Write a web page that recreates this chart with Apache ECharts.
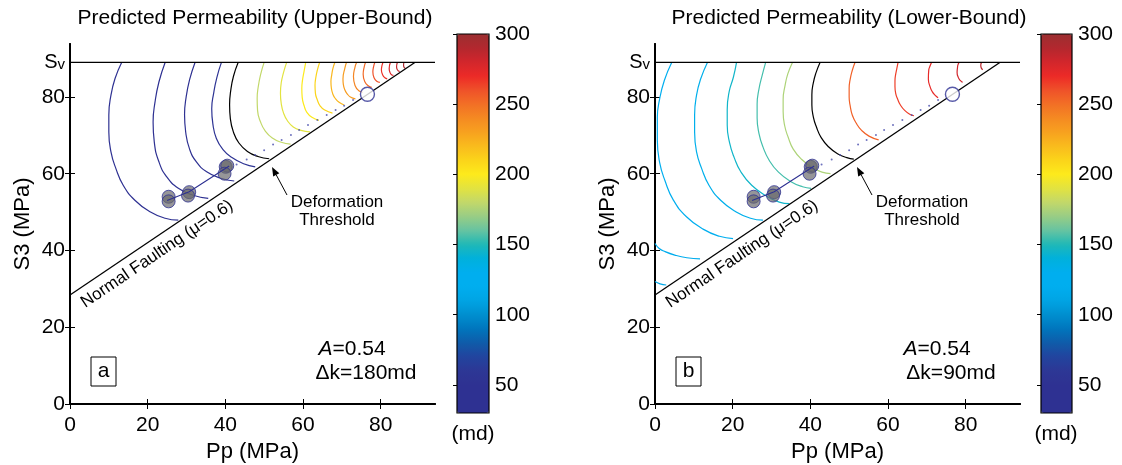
<!DOCTYPE html>
<html>
  <head>
    <meta charset="utf-8" />
    <title>Predicted Permeability</title>
    <script src="https://cdn.jsdelivr.net/npm/echarts@6/dist/echarts.min.js"></script>
    <style>
      body { margin: 0; background: #fff; }
      #main { width: 1122px; height: 465px; }
    </style>
  </head>
  <body>
    <div id="main"></div>
    <script type="text/javascript">
      // axis ranges (MPa)
      var xMax = 94
      var yMax = 93.8
      var svLevel = 89
      var axisTicks = [0, 20, 40, 60, 80]

      // colorbar (md)
      var cbMin = 30
      var cbMax = 300
      var cbTicks = [50, 100, 150, 200, 250, 300]
      // colormap sampled every 10 md from 30 to 300
      var cmap = ['#2e3192', '#2e3192', '#2e3192', '#2d3795', '#22449e', '#0f5ba9', '#0076bd', '#008fcf',
        '#00a4e4', '#00aeef', '#00aeef', '#00b1dc', '#1fb8b6', '#66c3a1', '#98cd85', '#c2d86a',
        '#e2e340', '#fdea1c', '#fbd41a', '#f9bb1d', '#f7a11f', '#f58a22', '#f26f25', '#ef5129',
        '#ec2a27', '#d2262c', '#b3272e', '#9b2f31']

      // normal faulting line (mu = 0.6)
      var faultLine = [[0, 28.4], [88.8, 89]]
      // measured states and trend
      var measuredPts = [[25.4, 54.0], [25.4, 52.8], [30.7, 55.2], [30.4, 54.3], [40.1, 61.8], [40.5, 62.1], [39.8, 60.0]]
      var trendLine = [[25.0, 53.0], [30.7, 55.3], [41.0, 62.0]]
      var criticalPt = [[76.6, 80.7]]
      // deformation threshold dots
      var thresholdDots = [[42.9, 62.4], [45.5, 63.7], [47.7, 64.9], [50.0, 66.1], [52.3, 67.6], [54.5, 68.8],
        [56.9, 70.1], [59.0, 71.4], [61.3, 72.7], [63.7, 74.0], [66.1, 75.3], [68.4, 76.6], [70.6, 77.7], [72.9, 79.2]]

      // upper-bound contours (md level; null = black threshold contour)
      var upperLevels = [40, 45, 50, 55, null, 180, 190, 200, 210, 222, 232, 242, 252, 260, 268, 276, 284, 292]
      var upperCurves = [
        [[13.3, 89], [11.6, 84.8], [10.55, 80.5], [10.0, 75.3], [10.0, 70.9], [10.55, 65.7], [11.8, 61.4], [13.7, 57.0], [16.7, 53.1], [20.6, 50.1], [24.5, 48.4], [27.9, 47.9]],
        [[24.5, 89], [22.9, 83.9], [21.9, 78.7], [21.4, 73.5], [21.7, 68.3], [22.9, 63.1], [24.9, 59.2], [27.9, 56.2], [31.7, 54.4], [35.6, 53.6]],
        [[32.2, 89], [30.8, 84.5], [29.9, 79.9], [29.5, 75.4], [29.8, 70.8], [30.8, 66.4], [32.6, 63.0], [35.2, 60.5], [38.6, 58.9], [42.3, 58.1]],
        [[39.0, 89], [37.8, 85.0], [37.0, 81.0], [36.5, 76.9], [36.8, 72.9], [37.7, 69.2], [39.4, 66.3], [41.7, 64.2], [44.7, 62.6], [47.7, 61.8]],
        [[43.3, 89], [42.1, 85.4], [41.4, 81.7], [41.1, 78.0], [41.3, 74.3], [42.1, 70.8], [43.5, 68.0], [45.7, 65.8], [48.4, 64.5], [51.3, 63.9]],
        [[50.0, 89], [49.1, 85.9], [48.5, 82.8], [48.2, 79.6], [48.3, 76.5], [49.1, 73.4], [50.3, 71.1], [52.1, 69.3], [54.4, 68.2], [56.8, 67.7]],
        [[55.8, 89], [55.0, 86.4], [54.4, 83.7], [54.2, 81.0], [54.4, 78.3], [55.0, 75.8], [56.0, 73.8], [57.5, 72.2], [59.5, 71.3], [61.8, 70.9]],
        [[60.7, 89], [60.3, 86.8], [59.9, 84.5], [59.7, 82.2], [59.8, 79.9], [60.3, 77.7], [61.0, 76.0], [62.3, 74.7], [64.1, 73.9]],
        [[64.3, 89], [63.7, 87.0], [63.3, 85.0], [63.1, 83.0], [63.2, 81.0], [63.7, 79.2], [64.4, 77.7], [65.6, 76.6], [67.6, 75.8]],
        [[68.2, 89], [67.7, 87.4], [67.4, 85.7], [67.2, 84.0], [67.3, 82.4], [67.7, 80.7], [68.4, 79.5], [69.3, 78.6], [70.6, 77.9]],
        [[71.2, 89], [70.8, 87.6], [70.3, 84.7], [70.4, 83.2], [70.8, 81.8], [71.4, 80.8], [72.2, 80.0], [73.5, 79.5]],
        [[73.8, 89], [73.4, 87.8], [73.0, 85.3], [73.4, 83.0], [74.3, 81.7], [75.4, 81.2]],
        [[76.1, 89], [75.8, 88.0], [75.5, 85.9], [75.9, 84.0], [76.8, 82.9], [77.7, 82.5]],
        [[78.5, 89], [78.2, 88.0], [78.0, 86.5], [78.3, 85.0], [79.0, 84.1], [79.8, 83.8]],
        [[80.6, 89], [80.3, 88.0], [80.2, 87.0], [80.5, 85.8], [81.1, 85.0], [81.7, 84.7]],
        [[82.5, 89], [82.2, 87.4], [82.4, 86.4], [82.8, 85.8], [83.3, 85.6]],
        [[84.3, 89], [84.1, 87.9], [84.3, 87.1], [84.9, 86.6]],
        [[86.0, 89], [85.9, 88.3], [86.0, 87.8], [86.4, 87.4]]
      ]

      // lower-bound contours
      var lowerLevels = [114, 118, 122, 132, 145, 155, 175, null, 255, 265, 272, 280, 288]
      var lowerCurves = [
        [[0, 31.9], [1.3, 31.3], [2.9, 31.0]],
        [[0, 41.8], [1.0, 40.6], [2.6, 39.7], [5.1, 38.8], [8.2, 38.1], [11.6, 37.8]],
        [[4.3, 89], [2.4, 84.3], [1.2, 79.5], [0.6, 74.7], [0.6, 68.7], [1.2, 62.9], [2.6, 58.1], [4.7, 53.2], [8.1, 48.8], [12.5, 45.5], [16.6, 43.7], [20.1, 43.1]],
        [[13.5, 89], [11.8, 84.8], [10.7, 80.5], [10.2, 75.3], [10.2, 70.9], [10.7, 65.7], [12.0, 61.4], [13.9, 57.0], [16.9, 53.1], [20.8, 50.1], [24.6, 48.4], [27.8, 47.9]],
        [[21.0, 89], [20.2, 85.2], [19.1, 81.4], [18.6, 76.7], [18.6, 72.7], [19.2, 68.1], [20.4, 64.2], [22.1, 60.5], [24.9, 57.0], [28.5, 54.3], [32.0, 52.6], [34.6, 52.2]],
        [[28.5, 89], [27.6, 85.6], [26.8, 82.2], [26.3, 78.1], [26.3, 74.5], [26.8, 70.4], [27.8, 67.0], [29.4, 63.5], [31.8, 60.4], [34.9, 58.0], [38.0, 56.6], [40.2, 56.2]],
        [[35.4, 89], [34.2, 86.0], [33.5, 83.0], [33.0, 79.3], [33.0, 76.2], [33.4, 72.5], [34.3, 69.5], [35.6, 66.4], [37.8, 63.7], [40.6, 61.6], [43.0, 60.4], [45.2, 60.0]],
        [[42.5, 89], [41.5, 86.4], [40.8, 83.8], [40.4, 80.6], [40.4, 77.9], [40.8, 74.7], [41.6, 72.1], [42.8, 69.4], [44.6, 67.1], [47.0, 65.2], [49.4, 64.2], [51.2, 63.8]],
        [[51.5, 89], [50.8, 86.9], [50.3, 84.8], [50.0, 82.2], [50.0, 80.0], [50.3, 77.5], [50.8, 75.3], [51.8, 73.2], [53.2, 71.3], [55.1, 69.8], [57.6, 68.8]],
        [[62.6, 89], [62.3, 87.5], [62.0, 86.0], [61.8, 84.2], [61.8, 82.7], [62.0, 80.9], [62.5, 79.4], [63.2, 77.9], [64.3, 76.5], [65.6, 75.5], [66.7, 75.1]],
        [[71.2, 89], [70.8, 88.0], [70.5, 87.0], [70.4, 84.7], [70.9, 82.5], [71.4, 81.4], [72.1, 80.5], [72.9, 79.8]],
        [[78.3, 89], [78.0, 88.3], [77.9, 87.6], [77.8, 86.4], [78.1, 85.1], [78.6, 84.3], [79.2, 83.8]],
        [[84.1, 89], [83.9, 88.3], [84.0, 87.6], [84.4, 87.1]]
      ]

      var FONT = 'Liberation Sans, Arial, sans-serif'

      function hexToRgb(h) {
        return [parseInt(h.substr(1, 2), 16), parseInt(h.substr(3, 2), 16), parseInt(h.substr(5, 2), 16)]
      }
      function levelColor(v) {
        if (v == null) return '#000'
        var t = (v - cbMin) / 10
        var i = Math.max(0, Math.min(cmap.length - 2, Math.floor(t)))
        var f = Math.max(0, Math.min(1, t - i))
        var a = hexToRgb(cmap[i]), b = hexToRgb(cmap[i + 1])
        var c = a.map(function (x, k) { return Math.round(x + (b[k] - x) * f) })
        return 'rgb(' + c.join(',') + ')'
      }

      var myChart = echarts.init(document.getElementById('main'))

      function panelAxes(grid) {
        var tick = { inside: true, length: 5, customValues: axisTicks, lineStyle: { color: '#000', width: 1 } }
        var line = { lineStyle: { color: '#000', width: 2 } }
        var label = { fontSize: 21, color: '#000', fontFamily: FONT }
        return {
          x: [
            {
              gridIndex: grid, type: 'value', min: 0, max: xMax, splitLine: { show: false },
              axisLine: line, axisTick: tick,
              axisLabel: Object.assign({ margin: 11, customValues: axisTicks }, label),
              name: 'Pp (MPa)', nameLocation: 'middle', nameGap: 37,
              nameTextStyle: { fontSize: 22, color: '#000', fontFamily: FONT }
            },
            {
              gridIndex: grid, type: 'value', position: 'top', min: 0, max: xMax, splitLine: { show: false },
              axisLine: line, axisTick: tick, axisLabel: { show: false }
            }
          ],
          y: [
            {
              gridIndex: grid, type: 'value', min: 0, max: yMax, splitLine: { show: false },
              axisLine: line, axisTick: tick,
              axisLabel: Object.assign({
                margin: 5, customValues: axisTicks.concat([svLevel]),
                formatter: function (v) { return v === svLevel ? '{s|S}{v|v}' : String(v) },
                rich: { s: { fontSize: 20, fontFamily: FONT, color: '#000' }, v: { fontSize: 15, fontFamily: FONT, color: '#000', padding: [5, 0, 0, 0] } }
              }, label),
              name: 'S3 (MPa)', nameLocation: 'middle', nameGap: 36,
              nameTextStyle: { fontSize: 22, color: '#000', fontFamily: FONT }
            },
            {
              gridIndex: grid, type: 'value', position: 'right', min: 0, max: yMax, splitLine: { show: false },
              axisLine: line, axisTick: tick, axisLabel: { show: false }
            }
          ]
        }
      }

      function colorbarAxes(grid) {
        return {
          x: { gridIndex: grid, type: 'value', min: 0, max: 1, show: false },
          y: {
            gridIndex: grid, type: 'value', position: 'right', min: cbMin, max: cbMax, z: 8,
            splitLine: { show: false }, axisLine: { show: false },
            axisTick: { inside: true, length: 4, customValues: cbTicks, lineStyle: { color: '#000', width: 1 } },
            axisLabel: { margin: 6, customValues: cbTicks, fontSize: 21, color: '#000', fontFamily: FONT }
          }
        }
      }

      function panelSeries(curves, levels, ax) {
        var s = curves.map(function (pts, k) {
          return {
            type: 'line', xAxisIndex: ax, yAxisIndex: ax, data: pts, smooth: 0.5, symbol: 'none',
            lineStyle: { color: levelColor(levels[k]), width: 1.2 }, silent: true, z: 2
          }
        })
        s.push({
          type: 'line', xAxisIndex: ax, yAxisIndex: ax, data: [[0, svLevel], [xMax, svLevel]], symbol: 'none',
          lineStyle: { color: '#000', width: 1.1 }, silent: true, z: 3
        })
        s.push({
          type: 'line', xAxisIndex: ax, yAxisIndex: ax, data: faultLine, symbol: 'none',
          lineStyle: { color: '#000', width: 1.3 }, silent: true, z: 3
        })
        s.push({
          type: 'scatter', xAxisIndex: ax, yAxisIndex: ax, data: thresholdDots, symbolSize: 2,
          itemStyle: { color: '#4a4fae' }, silent: true, z: 4
        })
        s.push({
          type: 'scatter', xAxisIndex: ax, yAxisIndex: ax, data: measuredPts, symbolSize: 13,
          itemStyle: { color: 'rgba(105,105,108,0.88)', borderColor: '#2e3192', borderWidth: 1 }, silent: true, z: 5
        })
        s.push({
          type: 'line', xAxisIndex: ax, yAxisIndex: ax, data: trendLine, symbol: 'none',
          lineStyle: { color: '#2e3192', width: 1.1 }, silent: true, z: 6
        })
        s.push({
          type: 'scatter', xAxisIndex: ax, yAxisIndex: ax, data: criticalPt, symbolSize: 14,
          itemStyle: { color: '#fff', borderColor: '#2e3192', borderWidth: 1.4 }, silent: true, z: 6
        })
        return s
      }

      var pa = panelAxes(0), pb = panelAxes(1), ca = colorbarAxes(2), cb = colorbarAxes(3)

      function txt(x, y, text, size, extra) {
        return {
          type: 'text', x: x, y: y, silent: true, rotation: (extra && extra.rotation) || 0,
          style: Object.assign({
            text: text, font: size + 'px ' + FONT, fill: '#000',
            align: 'center', verticalAlign: 'middle', textAlign: 'center', textVerticalAlign: 'middle'
          }, (extra && extra.style) || {})
        }
      }
      function arrow(tx, ty, hx, hy) {
        var dx = hx - tx, dy = hy - ty, len = Math.sqrt(dx * dx + dy * dy)
        var ux = dx / len, uy = dy / len, bx = hx - ux * 9, by = hy - uy * 9
        return [
          { type: 'line', silent: true, shape: { x1: tx, y1: ty, x2: bx, y2: by }, style: { stroke: '#000', lineWidth: 1 } },
          {
            type: 'polygon', silent: true,
            shape: { points: [[hx, hy], [bx - uy * 3.5, by + ux * 3.5], [bx + uy * 3.5, by - ux * 3.5]] },
            style: { fill: '#000' }
          }
        ]
      }
      function annotations(dx, letter, dk) {
        var rich = { i: { fontStyle: 'italic', fontSize: 21, fontFamily: FONT } }
        return [
          txt(157 + dx, 254, 'Normal Faulting (\u03bc=0.6)', 17, { rotation: 0.593 }),
          txt(337 + dx, 211, 'Deformation\nThreshold', 17, { style: { lineHeight: 18 } }),
          txt(352 + dx, 349, '{i|A}=0.54', 21, { style: { rich: rich } }),
          txt(366 + dx, 373, '\u0394k=' + dk, 21),
          { type: 'rect', silent: true, shape: { x: 91 + dx, y: 357, width: 25, height: 29 }, style: { fill: 'none', stroke: '#000', lineWidth: 1 } },
          txt(103.5 + dx, 371, letter, 21)
        ].concat(arrow(287 + dx, 195, 272 + dx, 167))
      }

      var option = {
        animation: false,
        grid: [
          { left: 70, top: 44, width: 365, height: 360, outerBoundsMode: 'none' },
          { left: 655, top: 44, width: 365, height: 360, outerBoundsMode: 'none' },
          { left: 457, top: 34, width: 32, height: 379, show: true, borderColor: '#000', borderWidth: 1.2, z: 6, outerBoundsMode: 'none' },
          { left: 1041, top: 34, width: 31, height: 379, show: true, borderColor: '#000', borderWidth: 1.2, z: 6, outerBoundsMode: 'none' }
        ],
        xAxis: pa.x.concat(pb.x).concat([ca.x, cb.x]),
        yAxis: pa.y.concat(pb.y).concat([ca.y, cb.y]),
        visualMap: [
          {
            type: 'continuous', min: cbMin, max: cbMax, left: 457, top: 34, itemWidth: 32, itemHeight: 379,
            padding: 0, calculable: false, seriesIndex: [], hoverLink: false, inRange: { color: cmap }
          },
          {
            type: 'continuous', min: cbMin, max: cbMax, left: 1041, top: 34, itemWidth: 31, itemHeight: 379,
            padding: 0, calculable: false, seriesIndex: [], hoverLink: false, inRange: { color: cmap }
          }
        ],
        graphic: [
          txt(255, 18, 'Predicted Permeability (Upper-Bound)', 21),
          txt(849, 18, 'Predicted Permeability (Lower-Bound)', 21),
          txt(473, 434, '(md)', 21),
          txt(1056, 434, '(md)', 21)
        ].concat(annotations(0, 'a', '180md')).concat(annotations(585, 'b', '90md')),
        // left panel uses axes 0, right panel uses axes 2
        series: panelSeries(upperCurves, upperLevels, 0).concat(panelSeries(lowerCurves, lowerLevels, 2))
      }
      myChart.setOption(option)
    </script>
  </body>
</html>
